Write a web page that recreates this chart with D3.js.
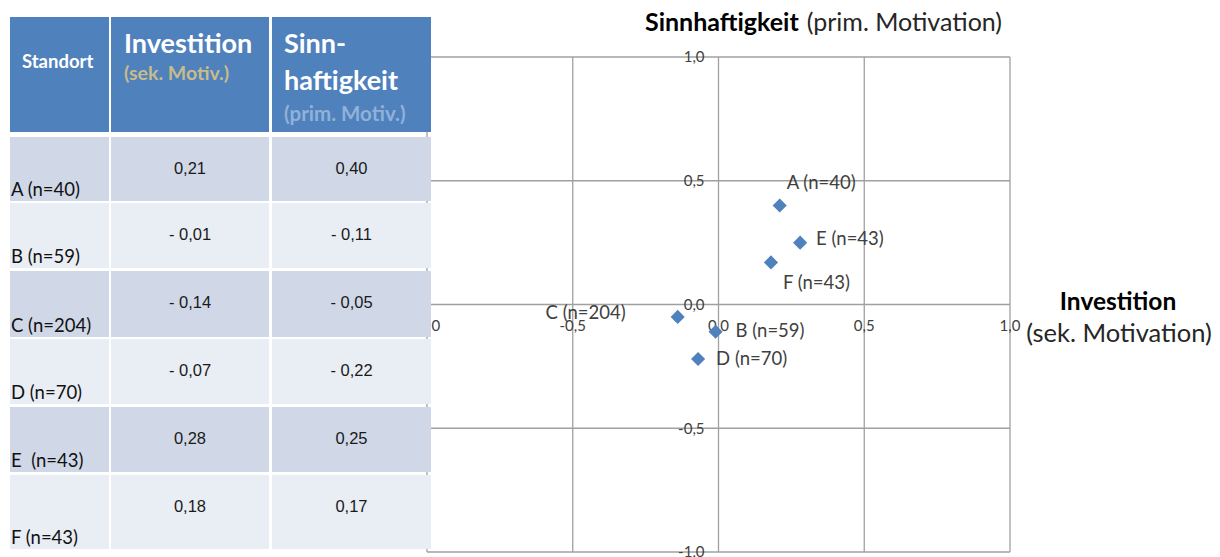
<!DOCTYPE html>
<html>
<head>
<meta charset="utf-8">
<script src="https://cdn.jsdelivr.net/npm/d3@7"></script>
<style>
  body { margin: 0; background: #fff; }
  svg { display: block; }
</style>
</head>
<body>
<div id="chart"></div>
<script>
// data
const standorte = ["A (n=40)", "B (n=59)", "C (n=204)", "D (n=70)", "E  (n=43)", "F (n=43)"];
const pointNames = ["A (n=40)", "B (n=59)", "C (n=204)", "D (n=70)", "E (n=43)", "F (n=43)"];
const investition = [0.21, -0.01, -0.14, -0.07, 0.28, 0.18];
const sinnhaftigkeit = [0.40, -0.11, -0.05, -0.22, 0.25, 0.17];
const axisTicks = [-1, -0.5, 0, 0.5, 1];

const width = 1220, height = 557;
const blue = "#4f81bd";
const gridColor = "#a0a0a0";
const calibri = "Lato, 'Open Sans', sans-serif";
const arial = "'Liberation Sans', Arial, sans-serif";

const svg = d3.select("#chart").append("svg")
    .attr("width", width)
    .attr("height", height);

// ---------- scatter plot (drawn first, the table sits on top of its left edge)
const x = d3.scaleLinear().domain([-1, 1]).range([427, 1010]);
const y = d3.scaleLinear().domain([-1, 1]).range([552, 57]);

const tickFmt = v => d3.format(".1f")(v).replace(".", ",").replace("−", "-");

const plot = svg.append("g");

plot.selectAll(".vgrid")
    .data(axisTicks)
    .join("line")
    .attr("x1", d => x(d)).attr("x2", d => x(d))
    .attr("y1", y(1)).attr("y2", y(-1))
    .attr("stroke", gridColor).attr("stroke-width", 1.3);

plot.selectAll(".hgrid")
    .data(axisTicks)
    .join("line")
    .attr("x1", x(-1)).attr("x2", x(1))
    .attr("y1", d => y(d)).attr("y2", d => y(d))
    .attr("stroke", gridColor).attr("stroke-width", 1.3);

// y tick labels sit left of the vertical 0 axis, on the gridline
plot.selectAll(".ytick")
    .data(axisTicks)
    .join("text")
    .attr("x", x(0) - 14)
    .attr("y", d => y(d))
    .attr("dy", "0.35em")
    .attr("text-anchor", "end")
    .attr("font-family", calibri)
    .attr("font-size", 15)
    .attr("fill", "#404040")
    .text(tickFmt);

// x tick labels below the horizontal 0 axis
plot.selectAll(".xtick")
    .data(axisTicks)
    .join("text")
    .attr("x", d => x(d))
    .attr("y", y(0) + 21)
    .attr("dy", "0.35em")
    .attr("text-anchor", "middle")
    .attr("font-family", calibri)
    .attr("font-size", 15)
    .attr("fill", "#404040")
    .text(tickFmt);

const points = pointNames.map((name, i) => ({name: name, x: investition[i], y: sinnhaftigkeit[i]}));

plot.selectAll(".pt")
    .data(points)
    .join("path")
    .attr("d", d3.symbol(d3.symbolSquare, 100))
    .attr("transform", d => "translate(" + x(d.x) + "," + y(d.y) + ") rotate(45)")
    .attr("fill", blue);

// where each data label sits relative to its marker
const labelOffset = {
    A: {dx: 7, dy: -23, anchor: "start"},
    B: {dx: 20, dy: -1, anchor: "start"},
    C: {dx: -52, dy: -4, anchor: "end"},
    D: {dx: 18, dy: 0, anchor: "start"},
    E: {dx: 16, dy: -4, anchor: "start"},
    F: {dx: 12, dy: 20, anchor: "start"}
};

plot.selectAll(".lbl")
    .data(points)
    .join("text")
    .attr("x", d => x(d.x) + labelOffset[d.name[0]].dx)
    .attr("y", d => y(d.y) + labelOffset[d.name[0]].dy)
    .attr("dy", "0.35em")
    .attr("text-anchor", d => labelOffset[d.name[0]].anchor)
    .attr("font-family", calibri)
    .attr("font-size", 18.5)
    .attr("fill", "#404040")
    .text(d => d.name);

// axis titles
const yTitle = svg.append("text")
    .attr("x", 645).attr("y", 31)
    .attr("font-family", calibri)
    .attr("font-size", 25)
    .attr("fill", "#000");
yTitle.append("tspan").attr("font-weight", "bold").text("Sinnhaftigkeit");
yTitle.append("tspan").attr("dx", 8).attr("fill", "#262626").text("(prim. Motivation)");

svg.append("text")
    .attr("x", 1118).attr("y", 310)
    .attr("text-anchor", "middle")
    .attr("font-family", calibri)
    .attr("font-size", 24.5)
    .attr("font-weight", "bold")
    .attr("fill", "#000")
    .text("Investition");

svg.append("text")
    .attr("x", 1119).attr("y", 342)
    .attr("text-anchor", "middle")
    .attr("font-family", calibri)
    .attr("font-size", 25.5)
    .attr("fill", "#262626")
    .text("(sek. Motivation)");

// ---------- table
const table = svg.append("g");
const cols = [[10, 109], [111, 269], [272, 431]];
const rowTop = [137, 203, 271, 339, 407, 475];
const rowBot = [201, 268, 337, 404, 472, 549];
const rowFill = ["#d0d8e8", "#e9edf4"];

// header cells
table.selectAll(".hcell")
    .data(cols)
    .join("rect")
    .attr("x", d => d[0]).attr("y", 17)
    .attr("width", d => d[1] - d[0]).attr("height", 115)
    .attr("fill", blue);

table.append("text")
    .attr("x", 22).attr("y", 68)
    .attr("font-family", calibri).attr("font-size", 18.5).attr("font-weight", "bold")
    .attr("fill", "#fff").text("Standort");

table.append("text")
    .attr("x", 124).attr("y", 53)
    .attr("font-family", calibri).attr("font-size", 27).attr("font-weight", "bold")
    .attr("fill", "#fff").text("Investition");
table.append("text")
    .attr("x", 124).attr("y", 80)
    .attr("font-family", calibri).attr("font-size", 19.5).attr("font-weight", "bold")
    .attr("fill", "#c8bb8c").text("(sek. Motiv.)");

table.append("text")
    .attr("x", 284).attr("y", 53)
    .attr("font-family", calibri).attr("font-size", 27).attr("font-weight", "bold")
    .attr("fill", "#fff").text("Sinn-");
table.append("text")
    .attr("x", 284).attr("y", 90)
    .attr("font-family", calibri).attr("font-size", 27).attr("font-weight", "bold")
    .attr("fill", "#fff").text("haftigkeit");
table.append("text")
    .attr("x", 284).attr("y", 121)
    .attr("font-family", calibri).attr("font-size", 20.5).attr("font-weight", "bold")
    .attr("fill", "#92b1d9").text("(prim. Motiv.)");

// body
const valFmt = v => (v < 0 ? "- " : "") + d3.format(".2f")(Math.abs(v)).replace(".", ",");

const rows = table.selectAll(".row")
    .data(standorte)
    .join("g");

rows.each(function(name, i) {
    const g = d3.select(this);
    g.selectAll("rect")
        .data(cols)
        .join("rect")
        .attr("x", d => d[0]).attr("y", rowTop[i])
        .attr("width", d => d[1] - d[0]).attr("height", rowBot[i] - rowTop[i])
        .attr("fill", rowFill[i % 2]);

    g.append("text")
        .attr("x", 11).attr("y", rowBot[i] - 5)
        .attr("font-family", calibri).attr("font-size", 18.5)
        .attr("fill", "#111")
        .style("white-space", "pre")
        .text(name);

    [investition[i], sinnhaftigkeit[i]].forEach((v, c) => {
        g.append("text")
            .attr("x", (cols[c + 1][0] + cols[c + 1][1]) / 2)
            .attr("y", rowTop[i] + 31)
            .attr("dy", "0.35em")
            .attr("text-anchor", "middle")
            .attr("font-family", arial).attr("font-size", 16.5)
            .attr("fill", "#1a1a1a")
            .style("white-space", "pre")
            .text(valFmt(v));
    });
});
</script>
</body>
</html>
